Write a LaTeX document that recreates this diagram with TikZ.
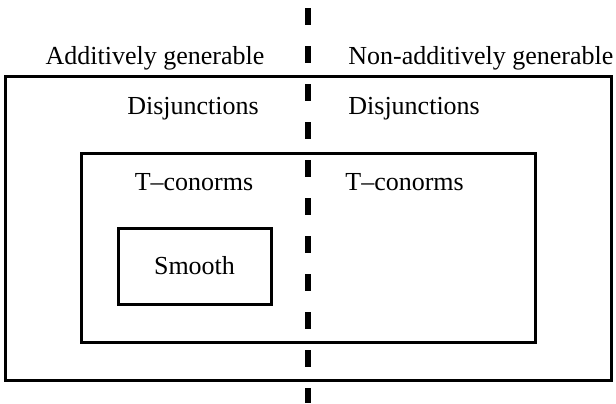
\documentclass[tikz,border=0pt]{standalone}
\usepackage{fontspec}
\setmainfont{Liberation Serif}
\begin{document}
\begin{tikzpicture}[x=0.5pt,y=-0.5pt,
  frame/.style={line width=1.5pt},
  divider/.style={line width=3pt, dash pattern=on 8.5pt off 10.5pt},
  lbl/.style={inner sep=0pt, font=\fontsize{13}{15}\selectfont}]
\useasboundingbox (0,0) rectangle (616,403);

% vertical dividing line between the two classes
\coordinate (divtop) at (308,8);
\coordinate (divbot) at (308,403);
\draw[divider] (divtop) -- (divbot);

% nested class boxes
\draw[frame] (5,76) rectangle (611,380);
\draw[frame] (81,153) rectangle (535,342);
\draw[frame] (118,228) rectangle (271,304);

% labels
\node[lbl, anchor=base] (addgen) at (155,64) {Additively generable};
\node[lbl, anchor=base west] (nonaddgen) at (348,64) {Non-additively generable};
\node[lbl, anchor=base] (disjL) at (193,114) {Disjunctions};
\node[lbl, anchor=base west] (disjR) at (348,114) {Disjunctions};
\node[lbl, anchor=base] (tconL) at (194,190) {T--conorms};
\node[lbl, anchor=base west] (tconR) at (345,190) {T--conorms};
\node[lbl, anchor=base] (smooth) at (194.5,274) {Smooth};
\end{tikzpicture}
\end{document}
